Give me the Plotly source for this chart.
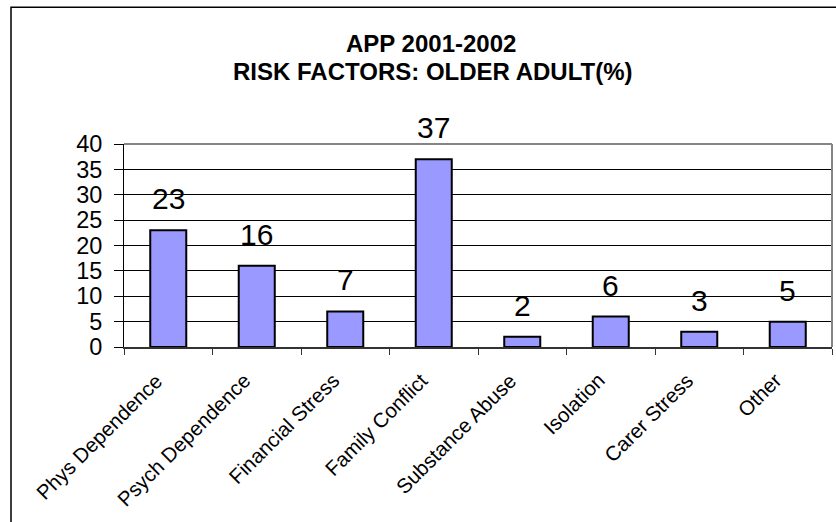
import plotly.graph_objects as go

categories = ["Phys Dependence", "Psych Dependence", "Financial Stress", "Family Conflict",
              "Substance Abuse", "Isolation", "Carer Stress", "Other"]
values = [23, 16, 7, 37, 2, 6, 3, 5]
title_line1 = "APP 2001-2002"
title_line2 = "RISK FACTORS: OLDER ADULT(%)"

W, H = 836, 522
ML, MR, MT, MB = 124, 4, 144, 175
PW = W - ML - MR
PH = H - MT - MB

def px_x(px):
    return (px - ML) / PW

def px_y(py):
    return (H - MB - py) / PH

FONT = "Liberation Sans, Arial, sans-serif"

fig = go.Figure()
fig.add_trace(go.Bar(
    x=categories, y=values,
    marker=dict(color="#9999FF", line=dict(color="black", width=2)),
    hoverinfo="x+y",
))

annotations = []
for c, v in zip(categories, values):
    annotations.append(dict(
        x=c, y=v, xref="x", yref="y", text=str(v), showarrow=False,
        yanchor="bottom", yshift=13,
        font=dict(family=FONT, size=30, color="black"),
    ))
    # rotated category labels
    annotations.append(dict(
        x=c, y=px_y(366), xref="x", yref="paper", text=c, showarrow=False,
        textangle=-45, xanchor="right", yanchor="top", xshift=1,
        font=dict(family=FONT, size=20.5, color="black"),
    ))
annotations.append(dict(
    x=px_x(431), y=px_y(44), xref="paper", yref="paper", text="<b>%s</b>" % title_line1,
    showarrow=False, xanchor="center", yanchor="middle",
    font=dict(family=FONT, size=24, color="black"),
))
annotations.append(dict(
    x=px_x(433), y=px_y(71.5), xref="paper", yref="paper", text="<b>%s</b>" % title_line2,
    showarrow=False, xanchor="center", yanchor="middle",
    font=dict(family=FONT, size=24, color="black"),
))

shapes = [
    # outer chart border
    dict(type="rect", xref="paper", yref="paper",
         x0=px_x(11), x1=px_x(845), y0=px_y(530), y1=px_y(7.3),
         line=dict(color="black", width=1.5), fillcolor="rgba(0,0,0,0)", layer="below"),
    # top and right plot border (grey)
    dict(type="line", xref="paper", yref="paper", x0=0, x1=1, y0=1, y1=1,
         line=dict(color="#858585", width=2), layer="above"),
    dict(type="line", xref="paper", yref="paper", x0=1, x1=1, y0=0, y1=1,
         line=dict(color="#858585", width=2), layer="above"),
]

fig.update_layout(
    width=W, height=H,
    margin=dict(l=ML, r=MR, t=MT, b=MB, pad=0),
    paper_bgcolor="white", plot_bgcolor="white",
    showlegend=False,
    bargap=0.593,
    font=dict(family=FONT, color="black"),
    annotations=annotations,
    shapes=shapes,
    xaxis=dict(
        type="category", categoryorder="array", categoryarray=categories,
        range=[-0.5, len(categories) - 0.5], autorange=False,
        tickson="boundaries", ticks="outside", ticklen=6,
        tickcolor="#333333", tickwidth=1,
        showline=True, linecolor="#333333", linewidth=1.5,
        showgrid=False, zeroline=False, showticklabels=False,
    ),
    yaxis=dict(
        range=[0, 40], autorange=False, dtick=5, tick0=0, ticks="outside", ticklen=9,
        tickcolor="black", tickwidth=1,
        showline=True, linecolor="black", linewidth=1,
        showgrid=True, gridcolor="black", gridwidth=1, zeroline=False,
        tickfont=dict(family=FONT, size=23.5, color="black"),
        ticklabelstandoff=7,
    ),
)

fig.write_html("out.html")
